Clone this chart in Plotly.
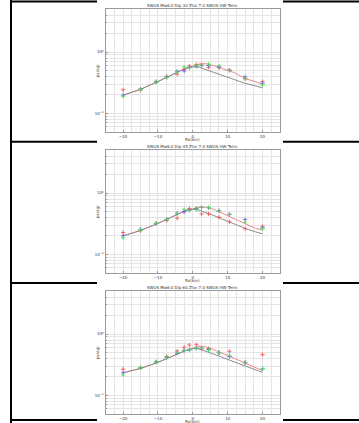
import plotly.graph_objects as go
from plotly.subplots import make_subplots

W, H = 359, 423

# Site positions (Rx, km) where the simulations are sampled
rx_pts = [-20, -15, -10.5, -7.5, -4.5, -2.5, -1, 1, 2.5, 4.5, 7.5, 10.5, 15, 20]
# Positions of the model curves
rx_line = [-20, -15, -10, -5, -2, 0, 1, 2, 3, 4, 6, 8, 10, 12, 15, 18, 20]

titles = [
    "SWUS Mw6.0 Dip 30 Ztor 7.0 SWUS HW Term",
    "SWUS Mw6.0 Dip 45 Ztor 7.0 SWUS HW Term",
    "SWUS Mw6.0 Dip 60 Ztor 7.0 SWUS HW Term",
]

# Dip 30
red_1 = [0.242, 0.240, 0.330, 0.400, 0.434, 0.520, 0.593, 0.623, 0.620, 0.564, 0.557, 0.500, 0.365, 0.330]
blue_1 = [0.198, 0.250, 0.325, 0.390, 0.486, 0.490, 0.560, 0.585, 0.600, 0.600, 0.570, 0.510, 0.393, 0.310]
green_1 = [0.189, 0.245, 0.325, 0.385, 0.470, 0.571, 0.550, 0.600, 0.615, 0.639, 0.593, 0.505, 0.370, 0.290]
base_1 = [0.198, 0.246, 0.330, 0.460, 0.545, 0.570, 0.575, 0.560, 0.538, 0.515, 0.465, 0.425, 0.390, 0.355, 0.308, 0.280, 0.260]
hw_1 = [0.198, 0.246, 0.330, 0.460, 0.545, 0.590, 0.625, 0.645, 0.650, 0.640, 0.600, 0.550, 0.505, 0.460, 0.370, 0.330, 0.300]

# Dip 45
red_2 = [0.227, 0.242, 0.318, 0.356, 0.388, 0.492, 0.557, 0.564, 0.456, 0.456, 0.403, 0.339, 0.261, 0.285]
blue_2 = [0.201, 0.257, 0.320, 0.374, 0.468, 0.500, 0.530, 0.550, 0.580, 0.575, 0.515, 0.450, 0.370, 0.270]
green_2 = [0.186, 0.250, 0.320, 0.370, 0.460, 0.543, 0.520, 0.545, 0.586, 0.580, 0.517, 0.451, 0.334, 0.261]
base_2 = [0.200, 0.245, 0.320, 0.440, 0.520, 0.545, 0.540, 0.520, 0.498, 0.475, 0.430, 0.385, 0.345, 0.310, 0.265, 0.232, 0.216]
hw_2 = [0.200, 0.245, 0.320, 0.440, 0.520, 0.550, 0.575, 0.590, 0.595, 0.585, 0.540, 0.480, 0.420, 0.370, 0.310, 0.265, 0.248]

# Dip 60
red_3 = [0.267, 0.281, 0.351, 0.430, 0.530, 0.608, 0.663, 0.671, 0.570, 0.580, 0.500, 0.523, 0.345, 0.462]
blue_3 = [0.233, 0.280, 0.350, 0.415, 0.487, 0.540, 0.550, 0.585, 0.590, 0.560, 0.495, 0.428, 0.340, 0.270]
green_3 = [0.214, 0.280, 0.350, 0.417, 0.500, 0.537, 0.550, 0.585, 0.585, 0.550, 0.498, 0.450, 0.342, 0.274]
base_3 = [0.233, 0.275, 0.345, 0.460, 0.540, 0.575, 0.580, 0.565, 0.543, 0.520, 0.470, 0.425, 0.385, 0.350, 0.300, 0.258, 0.236]
hw_3 = [0.233, 0.275, 0.345, 0.460, 0.540, 0.590, 0.620, 0.635, 0.630, 0.610, 0.555, 0.500, 0.450, 0.400, 0.335, 0.280, 0.252]

panels = [
    (red_1, blue_1, green_1, base_1, hw_1),
    (red_2, blue_2, green_2, base_2, hw_2),
    (red_3, blue_3, green_3, base_3, hw_3),
]

y_ticks = [0.1, 1]
y_text = ["10<sup>−1</sup>", "10<sup>0</sup>"]

FONT = "DejaVu Sans"
GRID = "#e4e4e4"
SPINE = "#9a9a9a"

# plot-area boxes in pixels (left, top, right, bottom)
px_left, px_right = 105.7, 280.0
tops = [9.3, 150.3, 291.3]
ph = 122.4

fig = make_subplots(rows=3, cols=1)

for i, (red, blue, green, base, hw) in enumerate(panels):
    r = i + 1
    fig.add_trace(go.Scatter(x=rx_line, y=hw, mode="lines",
                             line=dict(color="#f08a8a", width=1), hoverinfo="skip"), row=r, col=1)
    fig.add_trace(go.Scatter(x=rx_line, y=base, mode="lines",
                             line=dict(color="#8c8c8c", width=1), hoverinfo="skip"), row=r, col=1)
    for vals, col in ((red, "#ff4a4a"), (blue, "#5a5aff"), (green, "#4fe04f")):
        fig.add_trace(go.Scatter(x=rx_pts, y=vals, mode="markers", opacity=0.85,
                                 marker=dict(symbol="cross-thin", size=3,
                                             line=dict(color=col, width=1))),
                      row=r, col=1)

    top = tops[i]
    bot = top + ph
    xa = "xaxis" if r == 1 else f"xaxis{r}"
    ya = "yaxis" if r == 1 else f"yaxis{r}"
    fig.layout[xa].update(
        domain=[px_left / W, px_right / W], range=[-25, 25],
        tickmode="array", tickvals=[-20, -10, 0, 10, 20],
        ticks="inside", ticklen=2, tickcolor=SPINE,
        showgrid=True, gridcolor=GRID, gridwidth=1,
        minor=dict(tickmode="linear", tick0=0, dtick=2.5, showgrid=True, gridcolor=GRID, ticks=""),
        showline=True, linecolor=SPINE, linewidth=1, mirror=True,
        zeroline=False, tickfont=dict(family=FONT, size=4, color="#333"),
    )
    fig.layout[ya].update(
        domain=[1 - bot / H, 1 - top / H], type="log",
        range=[-1.30103, 0.69897],
        tickmode="array", tickvals=y_ticks, ticktext=y_text,
        ticks="inside", ticklen=2, tickcolor=SPINE,
        showgrid=True, gridcolor=GRID, gridwidth=1,
        minor=dict(dtick="D1", showgrid=True, gridcolor=GRID, ticks="inside", ticklen=1, tickcolor=SPINE),
        showline=True, linecolor=SPINE, linewidth=1, mirror=True,
        zeroline=False, tickfont=dict(family=FONT, size=4, color="#333"),
    )
    cx = (px_left + px_right) / 2 / W
    fig.add_annotation(text=titles[i], x=cx, y=1 - (top - 4.3) / H, xref="paper", yref="paper",
                       showarrow=False, font=dict(family=FONT, size=4, color="#333"),
                       xanchor="center", yanchor="middle")
    fig.add_annotation(text="Rx(km)", x=cx, y=1 - (bot + 7.5) / H, xref="paper", yref="paper",
                       showarrow=False, font=dict(family=FONT, size=4, color="#333"),
                       xanchor="center", yanchor="middle")
    fig.add_annotation(text="psa(g)", x=97.7 / W, y=1 - (top + ph / 2) / H, xref="paper", yref="paper",
                       showarrow=False, textangle=-90, font=dict(family=FONT, size=4, color="#333"),
                       xanchor="center", yanchor="middle")

# frame rules around the figure cells
shapes = [dict(type="line", xref="paper", yref="paper", x0=11 / W, x1=11 / W, y0=0, y1=1,
               line=dict(color="black", width=2))]
for yp in (1.5, 141.7, 283.0, 420.0):
    for xa0, xa1 in ((11, 97), (283, 359)):
        shapes.append(dict(type="line", xref="paper", yref="paper",
                           x0=xa0 / W, x1=xa1 / W, y0=1 - yp / H, y1=1 - yp / H,
                           line=dict(color="black", width=2)))

fig.update_layout(
    width=W, height=H, margin=dict(l=0, r=0, t=0, b=0),
    paper_bgcolor="white", plot_bgcolor="white",
    showlegend=False, shapes=shapes,
    font=dict(family=FONT, size=4),
)

fig.write_html("out.html")
